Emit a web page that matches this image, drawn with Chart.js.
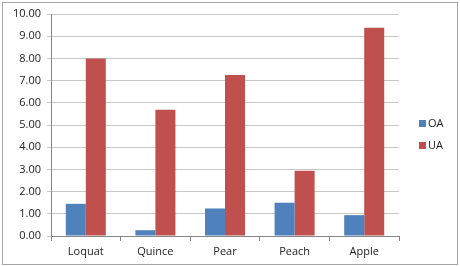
<!DOCTYPE html>
<html>
<head>
<meta charset="utf-8">
<script src="https://cdn.jsdelivr.net/npm/chart.js@4"></script>
<style>
    body { margin: 0; background: #fff; }
    #wrap { position: relative; width: 460px; height: 266px; }
    #frame {
        position: absolute; left: 2px; top: 2px; width: 454px; height: 261px;
        border: 1px solid #a6a6a6; pointer-events: none;
    }
    .leg {
        position: absolute; left: 419px; font: 11px "Open Sans", sans-serif; color: #222;
        line-height: 14px;
    }
    .leg span {
        display: inline-block; width: 7px; height: 7px; margin-right: 2px; vertical-align: 0px;
    }
</style>
</head>
<body>
<div id="wrap">
    <canvas id="fruitChart" width="460" height="266"></canvas>
    <div id="frame"></div>
    <div class="leg" style="top:116px"><span style="background:#4F81BD"></span>OA</div>
    <div class="leg" style="top:138px"><span style="background:#C0504D"></span>UA</div>
</div>
<script>
const categories = ['Loquat', 'Quince', 'Pear', 'Peach', 'Apple'];
const oaValues = [1.45, 0.26, 1.24, 1.50, 0.94];
const uaValues = [8.00, 5.69, 7.25, 2.94, 9.38];
const yTicks = [0, 1, 2, 3, 4, 5, 6, 7, 8, 9, 10];

const ctx = document.getElementById('fruitChart').getContext('2d');

new Chart(ctx, {
    type: 'bar',
    data: {
        labels: categories,
        datasets: [
            {
                label: 'OA',
                data: oaValues,
                backgroundColor: '#4F81BD',
                categoryPercentage: 0.575,
                barPercentage: 1.0
            },
            {
                label: 'UA',
                data: uaValues,
                backgroundColor: '#C0504D',
                categoryPercentage: 0.575,
                barPercentage: 1.0
            }
        ]
    },
    options: {
        responsive: false,
        animation: false,
        layout: { padding: { top: 14, right: 61, bottom: 0, left: 0 } },
        plugins: {
            legend: { display: false },
            tooltip: { enabled: false }
        },
        scales: {
            x: {
                grid: {
                    offset: true,
                    drawOnChartArea: false,
                    tickLength: 5,
                    color: '#868686'
                },
                border: { color: '#868686' },
                ticks: {
                    color: '#222',
                    padding: 4,
                    font: { family: 'Open Sans', size: 11 }
                },
                afterFit: scale => { scale.height = 30; }
            },
            y: {
                min: 0,
                max: 10,
                afterBuildTicks: scale => {
                    scale.ticks = yTicks.map(v => ({ value: v }));
                },
                grid: { color: '#c8c8c8', tickLength: 4 },
                border: { color: '#868686' },
                ticks: {
                    color: '#222',
                    padding: 6,
                    font: { family: 'Open Sans', size: 11 },
                    callback: val => val.toFixed(2)
                },
                afterFit: scale => { scale.width = 51; }
            }
        }
    }
});
</script>
</body>
</html>
